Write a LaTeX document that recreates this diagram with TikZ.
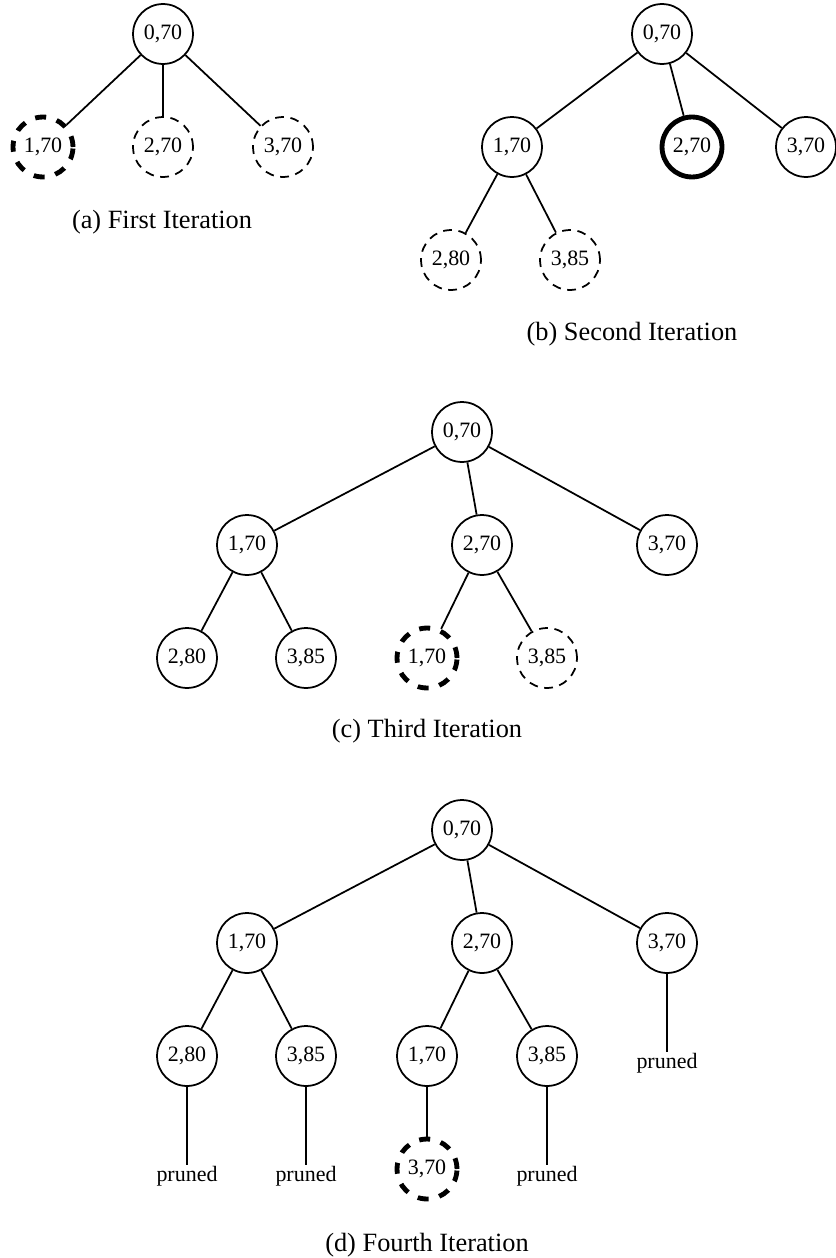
\documentclass[tikz,border=0pt]{standalone}
\usepackage{fontspec}
\setmainfont{Liberation Serif}
\usetikzlibrary{positioning}
\tikzset{
  state/.style={
    draw, circle, line width=0.8pt, minimum size=27.3pt, inner sep=0pt,
    font=\fontsize{10}{12}\selectfont
  },
  open/.style={state, dash pattern=on 4pt off 3pt},
  current/.style={state, line width=2.2pt, dash pattern=on 5pt off 5pt},
  chosen/.style={state, line width=2.2pt},
  edge/.style={line width=0.8pt},
  prunedtag/.style={anchor=north, inner sep=0.5pt, font=\fontsize{10}{12}\selectfont},
  caption/.style={anchor=base, inner sep=0pt, font=\fontsize{12}{14}\selectfont}
}
\begin{document}
\begin{tikzpicture}[x=0.016cm, y=-0.016cm]
  \useasboundingbox (0,0) rectangle (836,1258);

  % (a) first iteration
  \node[state]   (a0) at (163,34)  {0,70};
  \node[current] (a1) at (43,147)  {1,70};
  \node[open]    (a2) at (163,147) {2,70};
  \node[open]    (a3) at (283,147) {3,70};
  \draw[edge] (a0) -- (a1);
  \draw[edge] (a0) -- (a2);
  \draw[edge] (a0) -- (a3);
  \node[caption] (capa) at (162,228) {(a) First Iteration};

  % (b) second iteration
  \node[state]  (b0)  at (662,34)  {0,70};
  \node[state]  (b1)  at (512,147) {1,70};
  \node[chosen] (b2)  at (692,147) {2,70};
  \node[state]  (b3)  at (806,147) {3,70};
  \node[open]   (b11) at (451,260) {2,80};
  \node[open]   (b12) at (570,260) {3,85};
  \draw[edge] (b0) -- (b1);
  \draw[edge] (b0) -- (b2);
  \draw[edge] (b0) -- (b3);
  \draw[edge] (b1) -- (b11);
  \draw[edge] (b1) -- (b12);
  \node[caption] (capb) at (632,340) {(b) Second Iteration};

  % (c) third iteration
  \node[state]   (c0)  at (462,432) {0,70};
  \node[state]   (c1)  at (247,545) {1,70};
  \node[state]   (c2)  at (482,545) {2,70};
  \node[state]   (c3)  at (667,545) {3,70};
  \node[state]   (c11) at (187,658) {2,80};
  \node[state]   (c12) at (306,658) {3,85};
  \node[current] (c21) at (427,658) {1,70};
  \node[open]    (c22) at (547,658) {3,85};
  \draw[edge] (c0) -- (c1);
  \draw[edge] (c0) -- (c2);
  \draw[edge] (c0) -- (c3);
  \draw[edge] (c1) -- (c11);
  \draw[edge] (c1) -- (c12);
  \draw[edge] (c2) -- (c21);
  \draw[edge] (c2) -- (c22);
  \node[caption] (capc) at (427,737) {(c) Third Iteration};

  % (d) fourth iteration
  \node[state]   (d0)   at (462,830)  {0,70};
  \node[state]   (d1)   at (247,943)  {1,70};
  \node[state]   (d2)   at (482,943)  {2,70};
  \node[state]   (d3)   at (667,943)  {3,70};
  \node[state]   (d11)  at (187,1056) {2,80};
  \node[state]   (d12)  at (306,1056) {3,85};
  \node[state]   (d21)  at (427,1056) {1,70};
  \node[state]   (d22)  at (547,1056) {3,85};
  \node[current] (d211) at (427,1169) {3,70};
  \node[prunedtag] (p3)  at (667,1052) {pruned};
  \node[prunedtag] (p11) at (187,1165) {pruned};
  \node[prunedtag] (p12) at (306,1165) {pruned};
  \node[prunedtag] (p22) at (547,1165) {pruned};
  \draw[edge] (d0) -- (d1);
  \draw[edge] (d0) -- (d2);
  \draw[edge] (d0) -- (d3);
  \draw[edge] (d1) -- (d11);
  \draw[edge] (d1) -- (d12);
  \draw[edge] (d2) -- (d21);
  \draw[edge] (d2) -- (d22);
  \draw[edge] (d21) -- (d211);
  \draw[edge] (d3) -- (p3);
  \draw[edge] (d11) -- (p11);
  \draw[edge] (d12) -- (p12);
  \draw[edge] (d22) -- (p22);
  \node[caption] (capd) at (427,1251) {(d) Fourth Iteration};
\end{tikzpicture}
\end{document}
